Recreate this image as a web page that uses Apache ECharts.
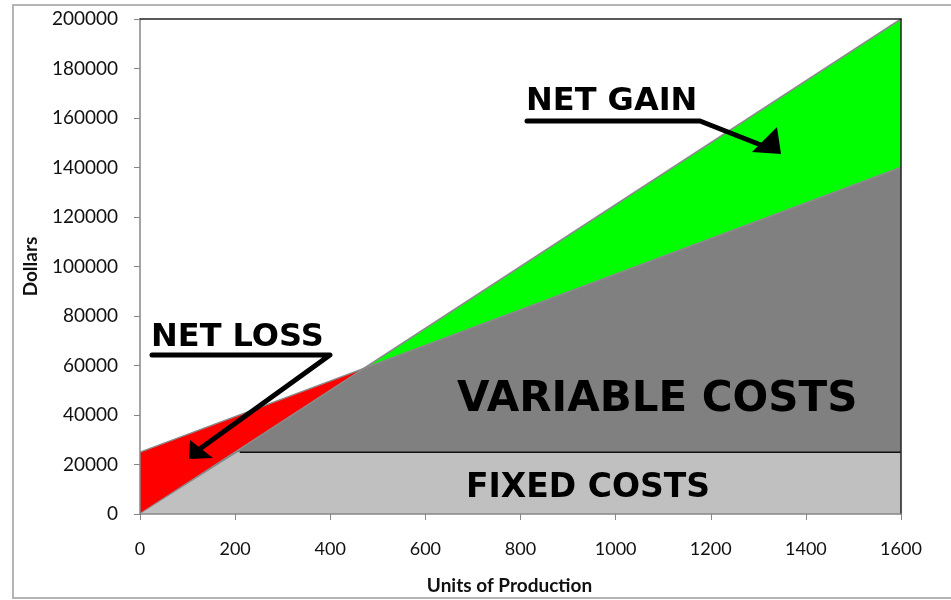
<!DOCTYPE html>
<html>
<head>
<meta charset="utf-8">
<script src="https://cdn.jsdelivr.net/npm/echarts@6/dist/echarts.min.js"></script>
<style>html,body{margin:0;padding:0;background:#fff;}#c{width:951px;height:600px;}</style>
</head>
<body>
<div id="c"></div>
<script>
// Data
var revenue = [[0, 0], [1600, 200000]];
var totalCost = [[0, 25000], [1600, 140000]];
var breakEven = [470, 58750];
var lowerEnvelope = [[0, 0], breakEven, [1600, 140000]];      // min(revenue, total cost)
var fixedFloor = [[0, 0], [205, 25000], [1600, 25000]];       // min(revenue, fixed cost)
var fixedLine = [[210, 25000], [1600, 25000]];
var xTicks = {min: 0, max: 1600, interval: 200};
var yTicks = {min: 0, max: 200000, interval: 20000};

var chart = echarts.init(document.getElementById('c'), null, {renderer: 'canvas'});
var edge = {color: '#8a8a8a', width: 1.5};
var plain = function (v) { return String(v); };

chart.setOption({
  animation: false,
  backgroundColor: '#fff',
  grid: {left: 140, right: 50, top: 19, bottom: 86, show: false},
  xAxis: [{
    type: 'value', min: xTicks.min, max: xTicks.max, interval: xTicks.interval,
    name: 'Units of Production', nameLocation: 'middle', nameGap: 62,
    nameTextStyle: {fontFamily: 'Lato', fontWeight: 'bold', fontSize: 19, color: '#111', padding: [0, 22, 0, 0]},
    axisLine: {show: true, onZero: false, lineStyle: {color: '#868686', width: 1.5}},
    axisTick: {show: true, length: 6, lineStyle: {color: '#868686'}},
    axisLabel: {margin: 26, fontFamily: 'Lato', fontSize: 18, color: '#111', formatter: plain},
    splitLine: {show: false}, z: 10
  }, {
    type: 'value', position: 'top', min: xTicks.min, max: xTicks.max,
    axisLine: {show: true, onZero: false, lineStyle: {color: '#222', width: 1.5}},
    axisTick: {show: false}, axisLabel: {show: false}, splitLine: {show: false}, z: 10
  }],
  yAxis: [{
    type: 'value', min: yTicks.min, max: yTicks.max, interval: yTicks.interval,
    name: 'Dollars', nameLocation: 'middle', nameGap: 100,
    nameTextStyle: {fontFamily: 'Lato', fontWeight: 'bold', fontSize: 19, color: '#111'},
    axisLine: {show: true, onZero: false, lineStyle: {color: '#868686', width: 1.5}},
    axisTick: {show: true, length: 6, lineStyle: {color: '#868686'}},
    axisLabel: {margin: 22, fontFamily: 'Lato', fontSize: 19, color: '#111', formatter: plain},
    splitLine: {show: false}, z: 10
  }, {
    type: 'value', position: 'right', min: yTicks.min, max: yTicks.max,
    axisLine: {show: true, onZero: false, lineStyle: {color: '#222', width: 1.5}},
    axisTick: {show: false}, axisLabel: {show: false}, splitLine: {show: false}, z: 10
  }],
  series: [
    {name: 'Revenue', type: 'line', data: revenue, z: 1, symbol: 'none',
     lineStyle: edge, areaStyle: {color: '#00ff00', opacity: 1}},
    {name: 'Total Cost', type: 'line', data: totalCost, z: 2, symbol: 'none',
     lineStyle: edge, areaStyle: {color: '#ff0000', opacity: 1}},
    {name: 'Variable Costs', type: 'line', data: lowerEnvelope, z: 3, symbol: 'none',
     lineStyle: edge, areaStyle: {color: '#808080', opacity: 1}},
    {name: 'Fixed Costs', type: 'line', data: fixedFloor, z: 4, symbol: 'none',
     lineStyle: {width: 0}, areaStyle: {color: '#c0c0c0', opacity: 1}},
    {name: 'Fixed Line', type: 'line', data: fixedLine, z: 5, symbol: 'none',
     lineStyle: {color: '#111', width: 1.5}}
  ],
  graphic: [
    {type: 'rect', z: 100, shape: {x: 13, y: 5, width: 960, height: 593},
     style: {fill: 'none', stroke: '#b4b4b4', lineWidth: 2}},
    {type: 'text', z: 100, x: 526, y: 102,
     style: {text: 'NET GAIN', font: 'bold 32px "DejaVu Sans"', fill: '#000', verticalAlign: 'middle'}},
    {type: 'polyline', z: 100, shape: {points: [[527, 121], [700, 121], [766, 147]]},
     style: {stroke: '#000', lineWidth: 5, lineCap: 'round', lineJoin: 'round', fill: 'none'}},
    {type: 'polygon', z: 100, shape: {points: [[781, 154], [777, 127], [752, 152]]},
     style: {fill: '#000'}},
    {type: 'text', z: 100, x: 151, y: 338,
     style: {text: 'NET LOSS', font: 'bold 32px "DejaVu Sans"', fill: '#000', verticalAlign: 'middle'}},
    {type: 'polyline', z: 100, shape: {points: [[152, 355], [330, 355], [201, 448]]},
     style: {stroke: '#000', lineWidth: 5, lineCap: 'round', lineJoin: 'round', fill: 'none'}},
    {type: 'polygon', z: 100, shape: {points: [[189, 459], [190, 440], [213, 458]]},
     style: {fill: '#000'}},
    {type: 'text', z: 100, x: 457, y: 400,
     style: {text: 'VARIABLE COSTS', font: 'bold 42px "DejaVu Sans"', fill: '#000', verticalAlign: 'middle'}},
    {type: 'text', z: 100, x: 466, y: 488,
     style: {text: 'FIXED COSTS', font: 'bold 33px "DejaVu Sans"', fill: '#000', verticalAlign: 'middle'}}
  ]
});
</script>
</body>
</html>
